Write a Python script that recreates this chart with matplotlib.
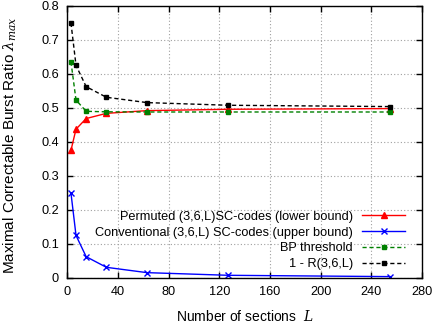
import matplotlib
matplotlib.use("Agg")
import matplotlib.pyplot as plt

plt.rcParams['font.family'] = ['Liberation Sans', 'DejaVu Sans']
plt.rcParams['mathtext.fontset'] = 'dejavuserif'

L = [3, 7, 15, 31, 63, 127, 255]
permuted = [0.375, 0.4375, 0.46875, 0.484, 0.492, 0.496, 0.498]
conventional = [0.25, 0.125, 0.0625, 0.03125, 0.0156, 0.0078, 0.0039]
bp_threshold = [0.636, 0.523, 0.490, 0.4885, 0.488, 0.488, 0.488]
one_minus_rate = [0.75, 0.625, 0.5625, 0.53125, 0.5156, 0.5078, 0.5039]

labels = ['Permuted (3,6,L)SC-codes (lower bound)',
          'Conventional (3,6,L) SC-codes (upper bound)',
          'BP threshold',
          '1 - R(3,6,L)']

xticks = [0, 40, 80, 120, 160, 200, 240, 280]
yticks = [0, 0.1, 0.2, 0.3, 0.4, 0.5, 0.6, 0.7, 0.8]

fig = plt.figure(figsize=(4.36, 3.27), dpi=100)
ax = fig.add_axes([0.154, 0.150, 0.814, 0.832])

ax.plot(L, permuted, color='#ff0000', lw=1.0, marker='^', ms=4, label=labels[0])
ax.plot(L, conventional, color='#0000ff', lw=1.0, marker='x', ms=4, mew=1.0, label=labels[1])
ax.plot(L, bp_threshold, color='#008000', lw=1.0, ls=(0, (3, 2)), marker='s', ms=3.5, label=labels[2])
ax.plot(L, one_minus_rate, color='black', lw=1.0, ls=(0, (3, 2)), marker='s', ms=3.5, label=labels[3])

ax.set_xlim(0, 280)
ax.set_ylim(0, 0.8)
ax.set_xticks(xticks)
ax.set_yticks(yticks)
ax.set_xticklabels([str(t) for t in xticks])
ax.set_yticklabels(['0'] + ['%.1f' % t for t in yticks[1:]])
ax.tick_params(direction='in', length=4, width=1, top=True, right=True, labelsize=9.2, pad=6)
ax.grid(True, color='#a0a0a0', ls=(0, (1, 2)), lw=0.8)
for s in ax.spines.values():
    s.set_linewidth(1.0)

ax.set_xlabel(r'Number of sections  $L$', fontsize=10, labelpad=8)
ax.set_ylabel(r'Maximal Correctable Burst Ratio $\lambda_{max}$', fontsize=11)
ax.yaxis.set_label_coords(-0.135, 0.49)

leg = ax.legend(loc='lower right', bbox_to_anchor=(1.0, -0.033), frameon=False,
                markerfirst=False, fontsize=9.2,
                handlelength=3.4, labelspacing=0.3, borderaxespad=0.9, handletextpad=0.7)

fig.savefig('out.png', dpi=100)
